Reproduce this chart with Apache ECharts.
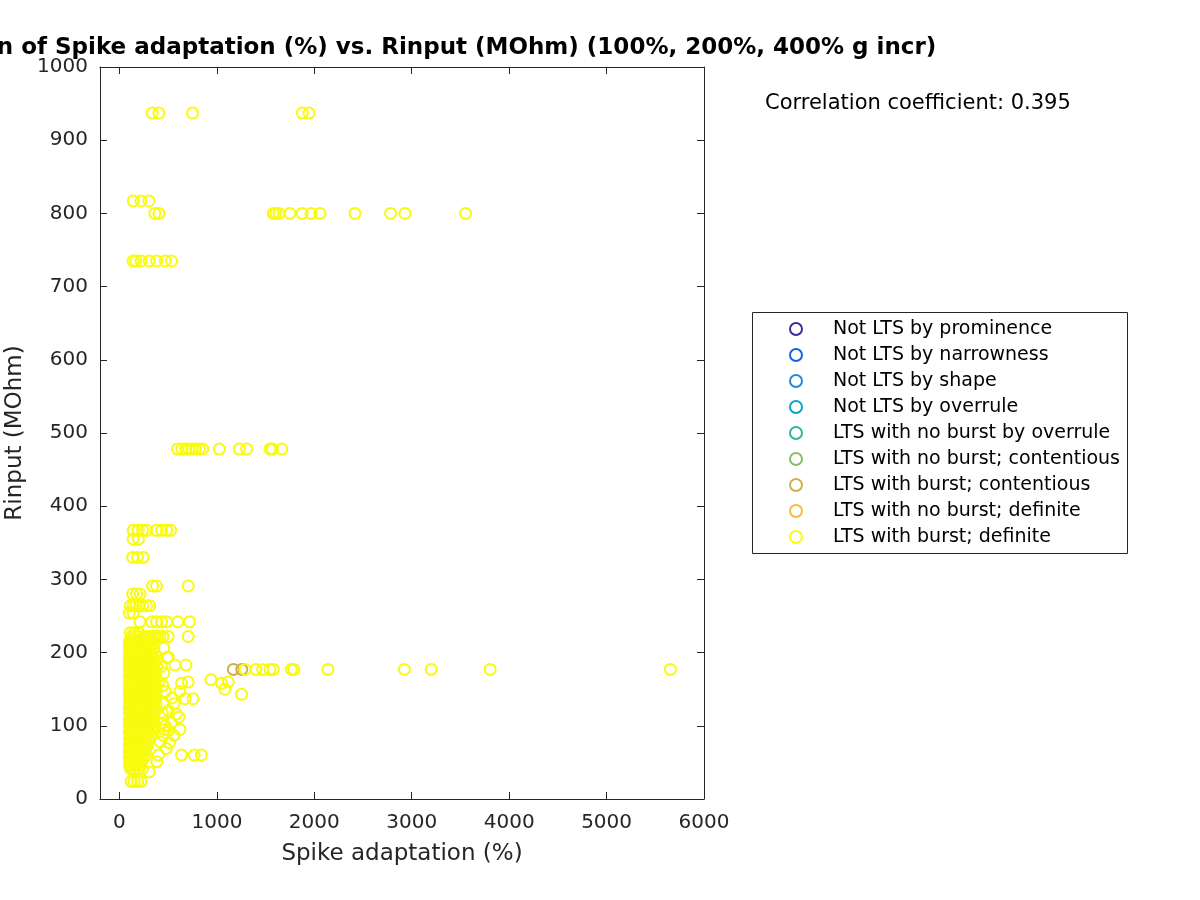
<!DOCTYPE html>
<html>
<head>
<meta charset="utf-8">
<script src="https://cdn.jsdelivr.net/npm/echarts@6/dist/echarts.min.js"></script>
<style>html,body{margin:0;padding:0;background:#fff}#chart{width:1200px;height:900px}</style>
</head>
<body>
<div id="chart"></div>
<script>
const FONT = 'DejaVu Sans';
const titleText = 'Correlation of Spike adaptation (%) vs. Rinput (MOhm) (100%, 200%, 400% g incr)';
const corrText = 'Correlation coefficient: 0.395';
const xName = 'Spike adaptation (%)';
const yName = 'Rinput (MOhm)';
const xTicks = [0, 1000, 2000, 3000, 4000, 5000, 6000];
const yTicks = [0, 100, 200, 300, 400, 500, 600, 700, 800, 900, 1000];

const legendNames = [
  'Not LTS by prominence',
  'Not LTS by narrowness',
  'Not LTS by shape',
  'Not LTS by overrule',
  'LTS with no burst by overrule',
  'LTS with no burst; contentious',
  'LTS with burst; contentious',
  'LTS with no burst; definite',
  'LTS with burst; definite'
];
const legendColors = ['#3e2b95', '#1563e0', '#2887d9', '#0fa5c9', '#30b6a0', '#8abd69', '#d1b04b', '#fbbb3c', '#f9fb0e'];

// LTS with burst; contentious
const burstContentious = [[1169, 177], [1255, 177]];

// LTS with burst; definite — high rows
const highRows = [
  [336, 937], [405, 937], [750, 937], [1876, 937], [1945, 937],
  [141, 817], [220, 817], [302, 817],
  [363, 800], [405, 800], [1578, 800], [1605, 800], [1637, 800], [1750, 800], [1876, 800], [1965, 800], [2058, 800], [2417, 800], [2783, 800], [2930, 800], [3553, 800],
  [139, 735], [168, 735], [221, 735], [305, 735], [381, 735], [469, 735], [535, 735]
];
const row480 = [
  [595, 478], [640, 478], [680, 478], [710, 478], [745, 478], [780, 478], [820, 478], [855, 478],
  [1025, 478], [1230, 478], [1305, 478], [1545, 478], [1570, 478], [1665, 478]
];
const row178 = [
  [1290, 177], [1400, 177], [1470, 177], [1545, 177], [1580, 177], [1765, 177], [1790, 177],
  [2140, 177], [2925, 177], [3200, 177], [3805, 177], [5655, 177]
];
const midRows = [
  [141, 367], [192, 367], [237, 367], [278, 367], [381, 367], [432, 367], [484, 367], [525, 367],
  [140, 355], [195, 355],
  [135, 330], [185, 330], [243, 330],
  [340, 291], [381, 291], [705, 291],
  [135, 280], [175, 280], [212, 280],
  [110, 264], [140, 264], [170, 264], [205, 264], [240, 264], [278, 264], [310, 264],
  [100, 254], [140, 254],
  [210, 242], [330, 242], [381, 242], [432, 242], [484, 242], [600, 242], [720, 242]
];
const midOutliers = [
  [500, 194], [569, 183], [682, 183], [938, 163], [1048, 158], [1116, 160], [1082, 150], [1253, 143],
  [637, 158], [705, 160], [620, 147], [675, 137], [755, 137], [583, 116], [620, 95], [500, 94],
  [512, 77], [637, 60], [766, 60], [840, 60], [400, 60], [384, 51], [305, 37], [141, 40]
];
// dense cluster: [Rinput, [spike adaptation values]]
const clusterRows = [
  [227, [110, 152, 198]],
  [222, [122, 168, 243, 266, 291, 318, 342, 366, 392, 418, 447, 500, 705]],
  [216, [104, 137, 176, 213, 258, 300]],
  [211, [100, 128, 162, 197, 236, 282, 322]],
  [206, [112, 147, 184, 226, 271, 309, 352, 455]],
  [202, [101, 126, 166, 206, 249, 293, 338]],
  [197, [116, 151, 189, 233, 276, 321, 368]],
  [193, [100, 131, 172, 214, 258, 302, 344, 490]],
  [189, [109, 149, 196, 241, 284, 331, 378]],
  [185, [102, 136, 177, 219, 266, 308, 356]],
  [181, [114, 156, 201, 244, 291, 339, 386, 430]],
  [177, [100, 129, 171, 213, 259, 304, 349]],
  [172, [111, 149, 191, 236, 279, 327, 374, 455]],
  [168, [101, 134, 176, 221, 264, 311, 357]],
  [164, [116, 154, 199, 246, 289, 336, 381]],
  [160, [100, 131, 169, 211, 254, 299, 346, 402]],
  [155, [109, 151, 192, 233, 281, 324, 371, 445]],
  [151, [102, 136, 174, 219, 266, 312, 354]],
  [147, [114, 156, 197, 239, 286, 331, 379, 470]],
  [143, [100, 129, 171, 216, 261, 303, 349]],
  [138, [111, 149, 188, 234, 279, 326, 372, 540]],
  [134, [101, 134, 177, 221, 264, 309, 361]],
  [130, [116, 154, 196, 241, 284, 332, 376, 450, 560]],
  [125, [100, 131, 169, 214, 259, 306, 351]],
  [121, [109, 151, 191, 236, 281, 324, 369, 500]],
  [117, [102, 136, 174, 219, 266, 311, 356, 440]],
  [112, [114, 156, 194, 241, 286, 329, 610]],
  [108, [100, 129, 171, 216, 261, 304, 351]],
  [104, [111, 149, 189, 234, 279, 326, 445, 530]],
  [100, [101, 134, 176, 221, 264, 309, 359, 470]],
  [95, [116, 154, 196, 239, 284, 331, 460]],
  [91, [100, 131, 169, 214, 261, 306]],
  [87, [109, 151, 191, 236, 279, 321, 450, 560]],
  [82, [102, 136, 174, 219, 266, 301]],
  [78, [114, 156, 194, 241, 281, 420]],
  [74, [100, 129, 171, 216, 256, 291]],
  [69, [111, 149, 189, 231, 271, 480]],
  [65, [101, 134, 176, 214, 254]],
  [60, [116, 151, 191, 229, 269]],
  [56, [100, 131, 169, 211, 251]],
  [51, [109, 146, 186, 224]],
  [46, [102, 129, 166, 206]],
  [41, [114, 151, 189, 236]],
  [24, [120, 152, 186, 220]]
];

const clusterPoints = [];
clusterRows.forEach(function (r) { r[1].forEach(function (x) { clusterPoints.push([x, r[0]]); }); });
const burstDefinite = [].concat(clusterPoints, midRows, midOutliers, highRows, row480, row178);

const seriesData = [[], [], [], [], [], [], burstContentious, [], burstDefinite];

const AX = '#262626';
const chart = echarts.init(document.getElementById('chart'), null, { renderer: 'canvas' });

const series = legendNames.map(function (name, i) {
  return {
    name: name,
    type: 'scatter',
    xAxisIndex: 0,
    yAxisIndex: 0,
    data: seriesData[i],
    symbol: 'circle',
    symbolSize: 11,
    itemStyle: { color: 'rgba(0,0,0,0)', borderColor: legendColors[i], borderWidth: 2, opacity: 1 },
    emphasis: { disabled: true },
    silent: true
  };
});

function plain(v) { return String(v); }
function baseX(pos, showLabels) {
  return {
    type: 'value', min: -200, max: 6000, position: pos,
    axisLine: { show: true, onZero: false, lineStyle: { color: AX, width: 1 } },
    axisTick: { show: true, inside: true, length: 7, customValues: xTicks, lineStyle: { color: AX, width: 1 } },
    axisLabel: { show: showLabels, customValues: xTicks, formatter: plain, fontSize: 20, color: AX, fontFamily: FONT, margin: 14 },
    splitLine: { show: false }
  };
}
function baseY(pos, showLabels) {
  return {
    type: 'value', min: 0, max: 1000, interval: 100, position: pos,
    axisLine: { show: true, onZero: false, lineStyle: { color: AX, width: 1 } },
    axisTick: { show: true, inside: true, length: 7, customValues: yTicks, lineStyle: { color: AX, width: 1 } },
    axisLabel: { show: showLabels, customValues: yTicks, formatter: plain, fontSize: 20, color: AX, fontFamily: FONT, margin: 12 },
    splitLine: { show: false }
  };
}
const x0 = baseX('bottom', true);
x0.name = xName; x0.nameLocation = 'middle'; x0.nameGap = 44;
x0.nameTextStyle = { fontSize: 23, color: AX, fontFamily: FONT };
const y0 = baseY('left', true);
y0.name = yName; y0.nameLocation = 'middle'; y0.nameGap = 62;
y0.nameTextStyle = { fontSize: 23, color: AX, fontFamily: FONT };

const option = {
  animation: false,
  backgroundColor: '#fff',
  grid: { left: 100, top: 67, width: 604, height: 732, containLabel: false, outerBoundsMode: 'none' },
  xAxis: [x0, baseX('top', false)],
  yAxis: [y0, baseY('right', false)],
  legend: {
    orient: 'vertical', left: 789, top: 319, padding: 0,
    itemWidth: 64, itemHeight: 12, itemGap: 6,
    selectedMode: false,
    textStyle: { fontSize: 19, color: '#000', fontFamily: FONT, lineHeight: 20 },
    data: legendNames.map(function (n, i) {
      return { name: n, icon: 'circle', itemStyle: { color: 'rgba(0,0,0,0)', borderColor: legendColors[i], borderWidth: 2 } };
    })
  },
  graphic: [
    { type: 'rect', shape: { x: 752.5, y: 312.5, width: 375, height: 241 }, style: { fill: 'none', stroke: AX, lineWidth: 1 }, silent: true },
    { type: 'text', x: 402, y: 48, style: { text: titleText, font: 'bold 23px "DejaVu Sans"', fill: '#000', align: 'center', verticalAlign: 'middle', textAlign: 'center', textVerticalAlign: 'middle' }, silent: true },
    { type: 'text', x: 765, y: 104, style: { text: corrText, font: '21px "DejaVu Sans"', fill: '#000', align: 'left', verticalAlign: 'middle', textAlign: 'left', textVerticalAlign: 'middle' }, silent: true }
  ],
  series: series
};
chart.setOption(option);
</script>
</body>
</html>
